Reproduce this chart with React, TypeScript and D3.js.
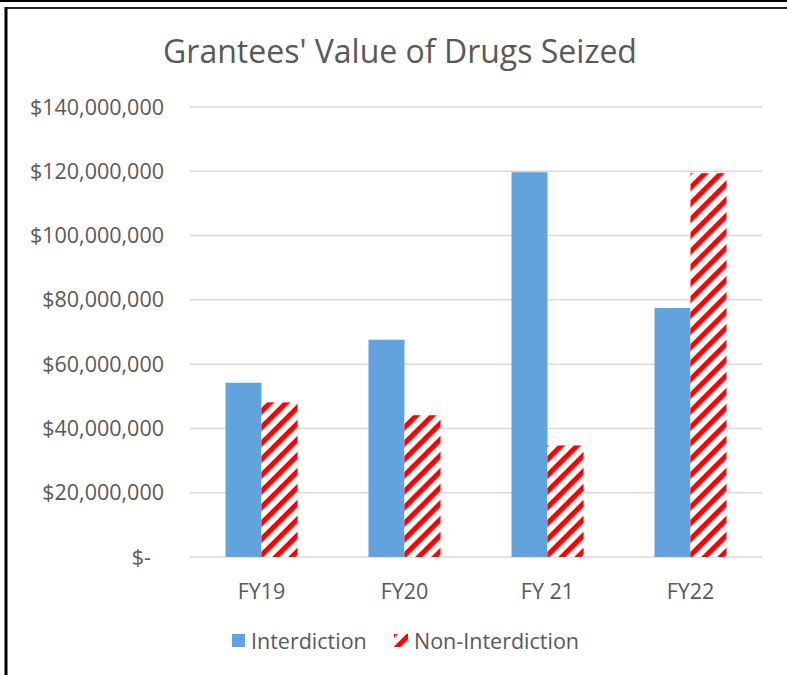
import React, { useEffect, useRef } from 'react';
import * as d3 from 'd3';

// values
const categories = ['FY19', 'FY20', 'FY 21', 'FY22'];
const interdiction = [54.2e6, 67.6e6, 119.7e6, 77.5e6];
const nonInterdiction = [48.1e6, 44.1e6, 34.7e6, 119.4e6];
const yTicks = [0, 20e6, 40e6, 60e6, 80e6, 100e6, 120e6, 140e6];
const seriesNames = ['Interdiction', 'Non-Interdiction'];

const W = 787;
const H = 675;
const FONT = '"Open Sans", "Noto Sans", sans-serif';
const TEXT = '#595959';
const BLUE = '#62a3de';
const LABEL_SIZE = '21.5px';

const App = () => {
  const ref = useRef<SVGSVGElement>(null);

  useEffect(() => {
    const svg = d3.select(ref.current);
    svg.selectAll('*').remove();

    const margin = { top: 107, right: 25, bottom: 118, left: 190 };

    // hatch pattern for the non-interdiction bars
    const defs = svg.append('defs');
    const pat = defs.append('pattern')
      .attr('id', 'hatch')
      .attr('patternUnits', 'userSpaceOnUse')
      .attr('width', 11.3)
      .attr('height', 11.3)
      .attr('patternTransform', 'rotate(45)');
    pat.append('rect').attr('width', 11.3).attr('height', 11.3).attr('fill', '#fff');
    pat.append('rect').attr('width', 5.2).attr('height', 11.3).attr('fill', '#ff0000');

    svg.append('rect').attr('width', W).attr('height', H).attr('fill', '#fff');

    // frame
    svg.append('rect').attr('x', 0).attr('y', 0).attr('width', W).attr('height', 2).attr('fill', '#000');
    svg.append('line')
      .attr('x1', 5).attr('x2', W).attr('y1', 8).attr('y2', 8)
      .attr('stroke', '#222').attr('stroke-width', 2);
    svg.append('line')
      .attr('x1', 6).attr('x2', 6).attr('y1', 7).attr('y2', H)
      .attr('stroke', '#000').attr('stroke-width', 3);

    // title
    svg.append('text')
      .attr('x', 400)
      .attr('y', 63)
      .attr('text-anchor', 'middle')
      .attr('fill', TEXT)
      .style('font-family', FONT)
      .style('font-size', '32px')
      .text("Grantees' Value of Drugs Seized");

    const x = d3.scaleBand()
      .domain(categories)
      .range([margin.left, W - margin.right])
      .paddingInner(0)
      .paddingOuter(0);

    const xs = d3.scaleBand()
      .domain(seriesNames)
      .range([0, x.bandwidth()])
      .paddingOuter(0.986)
      .paddingInner(0);

    const y = d3.scaleLinear()
      .domain([0, 140e6])
      .range([H - margin.bottom, margin.top]);

    // gridlines + y labels
    const fmt = d3.format(',');
    const grid = svg.append('g');
    grid.selectAll('line')
      .data(yTicks)
      .join('line')
      .attr('x1', margin.left)
      .attr('x2', W - margin.right)
      .attr('y1', d => y(d))
      .attr('y2', d => y(d))
      .attr('stroke', '#d9d9d9')
      .attr('stroke-width', 1.5);

    grid.selectAll('text')
      .data(yTicks)
      .join('text')
      .attr('x', d => (d === 0 ? 151 : 164))
      .attr('y', d => y(d))
      .attr('dy', '0.35em')
      .attr('text-anchor', 'end')
      .attr('fill', TEXT)
      .style('font-family', FONT)
      .style('font-size', LABEL_SIZE)
      .text(d => (d === 0 ? '$-' : '$' + fmt(d)));

    // bars
    const groups = svg.append('g')
      .selectAll('g')
      .data(categories)
      .join('g')
      .attr('transform', d => `translate(${x(d)},0)`);

    groups.append('rect')
      .attr('x', xs('Interdiction')!)
      .attr('width', xs.bandwidth())
      .attr('y', (_, i) => y(interdiction[i]))
      .attr('height', (_, i) => y(0) - y(interdiction[i]))
      .attr('fill', BLUE);

    groups.append('rect')
      .attr('x', xs('Non-Interdiction')!)
      .attr('width', xs.bandwidth())
      .attr('y', (_, i) => y(nonInterdiction[i]))
      .attr('height', (_, i) => y(0) - y(nonInterdiction[i]))
      .attr('fill', 'url(#hatch)');

    // category labels
    svg.append('g')
      .selectAll('text')
      .data(categories)
      .join('text')
      .attr('x', d => x(d)! + x.bandwidth() / 2)
      .attr('y', y(0) + 34)
      .attr('dy', '0.35em')
      .attr('text-anchor', 'middle')
      .attr('fill', TEXT)
      .style('font-family', FONT)
      .style('font-size', LABEL_SIZE)
      .text(d => d);

    // legend
    const legend = svg.append('g').attr('transform', 'translate(0,641)');
    legend.append('rect')
      .attr('x', 232).attr('y', -7).attr('width', 13).attr('height', 13)
      .attr('fill', BLUE);
    legend.append('text')
      .attr('x', 251).attr('y', 0).attr('dy', '0.35em')
      .attr('fill', TEXT)
      .style('font-family', FONT)
      .style('font-size', LABEL_SIZE)
      .text(seriesNames[0]);
    legend.append('rect')
      .attr('x', 394).attr('y', -7).attr('width', 14).attr('height', 13)
      .attr('fill', 'url(#hatch)');
    legend.append('text')
      .attr('x', 414).attr('y', 0).attr('dy', '0.35em')
      .attr('fill', TEXT)
      .style('font-family', FONT)
      .style('font-size', LABEL_SIZE)
      .text(seriesNames[1]);
  }, []);

  return (
    <svg
      ref={ref}
      width={W}
      height={H}
      style={{ position: 'absolute', left: 0, top: 0, display: 'block' }}
    />
  );
};

export default App;
